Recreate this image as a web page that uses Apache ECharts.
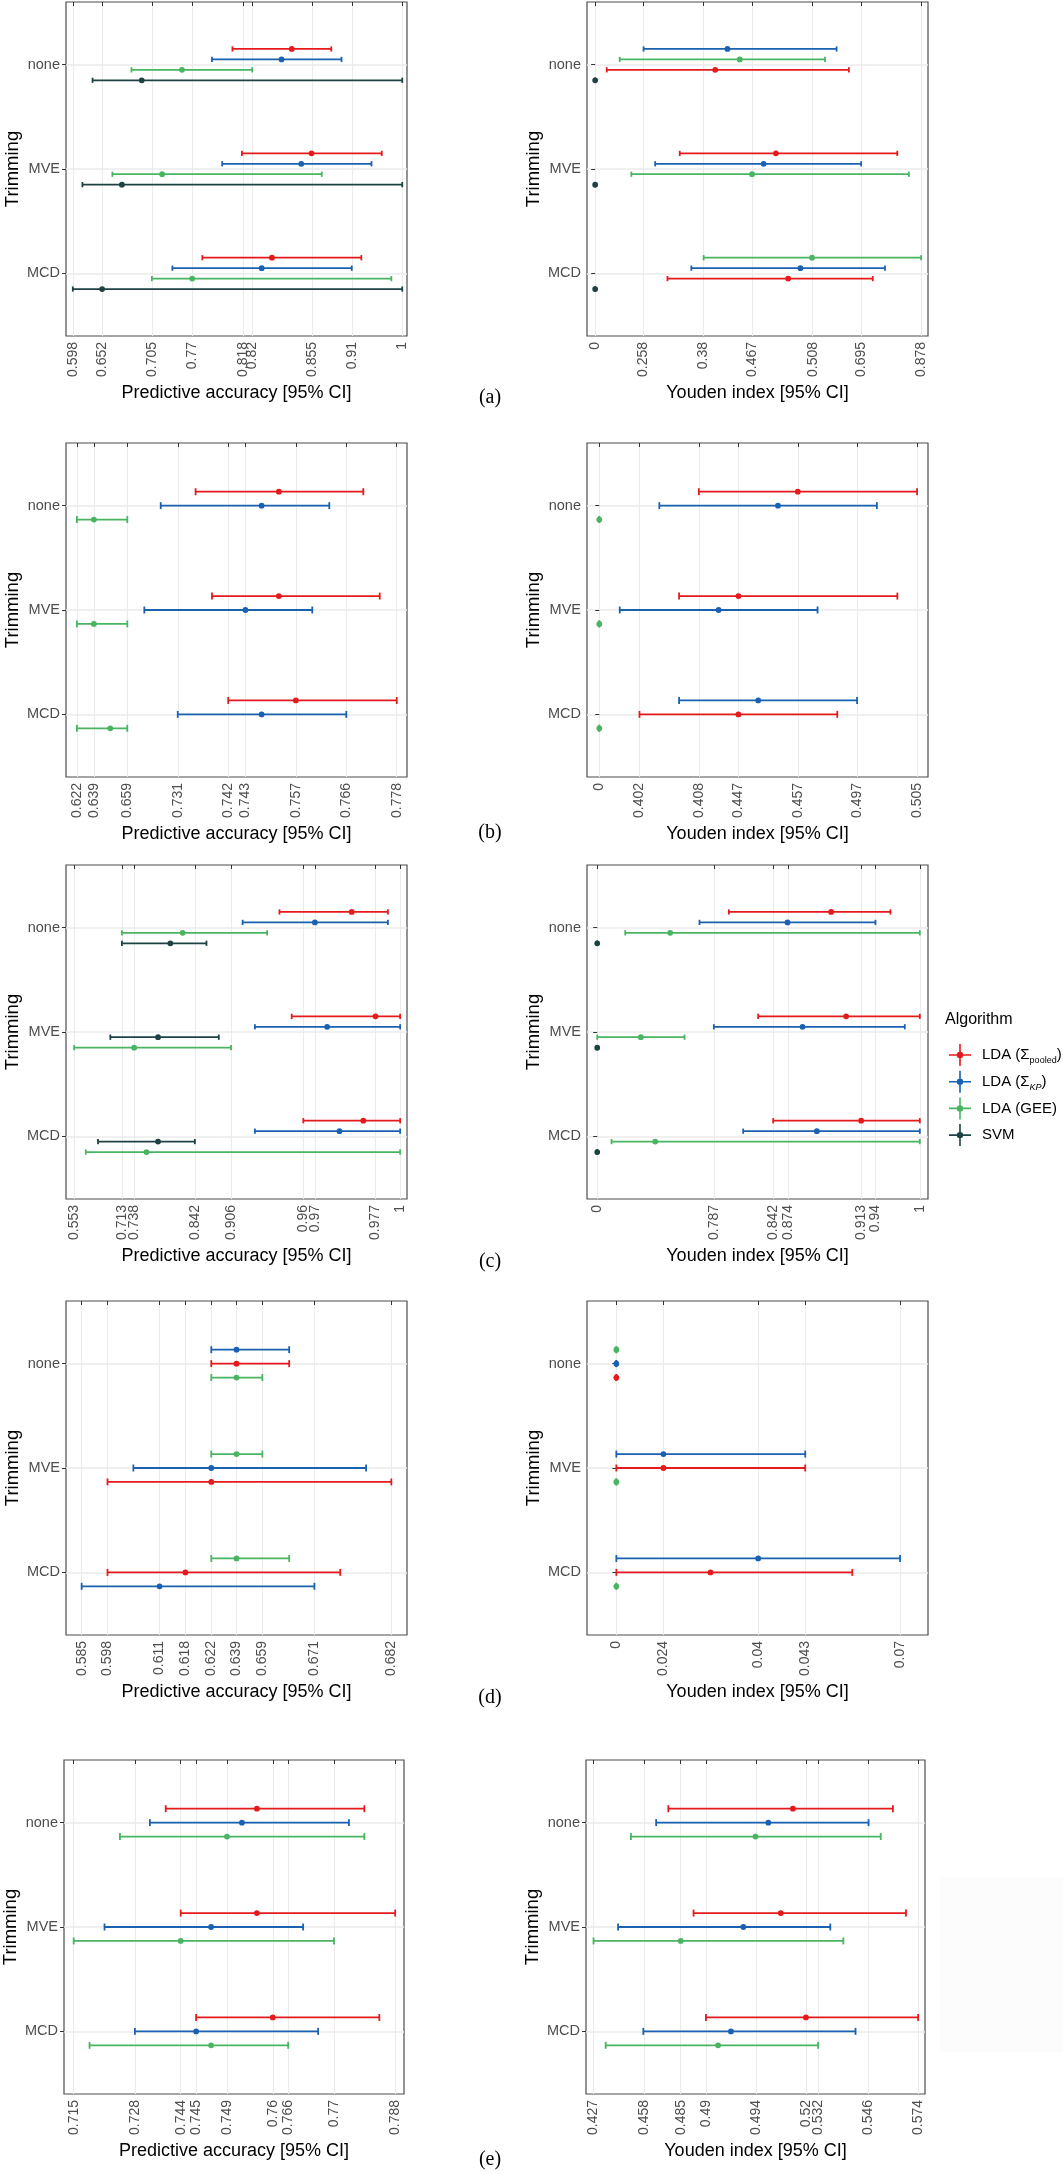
<!DOCTYPE html>
<html>
<head>
<meta charset="utf-8">
<title>Trimming vs algorithm</title>
<script src="https://cdn.jsdelivr.net/npm/echarts@6/dist/echarts.min.js"></script>
<style>
html, body { margin: 0; padding: 0; background: #fff; }
#main { width: 1063px; height: 2174px; }
</style>
</head>
<body>
<div id="main"></div>
<script>
var trimming = ['none', 'MVE', 'MCD'];
var algoKeys = ['pooled', 'kp', 'gee', 'svm'];
var algoNames = ['LDA (Σpooled)', 'LDA (ΣKP)', 'LDA (GEE)', 'SVM'];
var algoColors = ['#E41A1C', '#1A61B1', '#49B461', '#1E4243'];

// each row: [lower, estimate, upper] for none, MVE, MCD
// (a) predictive accuracy
var accA_pooled = [[0.7928, 0.8652, 0.9134], [0.8044, 0.8893, 0.9750], [0.7561, 0.8410, 0.9501]];
var accA_kp     = [[0.7678, 0.8527, 0.9259], [0.7803, 0.8768, 0.9625], [0.7195, 0.8285, 0.9384]];
var accA_gee    = [[0.6696, 0.7312, 0.8169], [0.6463, 0.7070, 0.9018], [0.6945, 0.7437, 0.9867]];
var accA_svm    = [[0.6221, 0.6821, 1.0], [0.6097, 0.6579, 1.0], [0.598, 0.6338, 1.0]];
var accA_ticks  = [0.598, 0.6338, 0.6954, 0.7437, 0.8061, 0.8169, 0.8901, 0.9384, 1];
var accA_labels = ['0.598', '0.652', '0.705', '0.77', '0.818', '0.82', '0.855', '0.91', '1'];
var accA_range  = [0.5897, 1.0058];
var accA_order  = [['pooled', 'kp', 'gee', 'svm'], ['pooled', 'kp', 'gee', 'svm'], ['pooled', 'kp', 'gee', 'svm']];

// (a) Youden index
var youA_pooled = [[0.0312, 0.3233, 0.6833], [0.2278, 0.4868, 0.8137], [0.1947, 0.5198, 0.7476]];
var youA_kp     = [[0.1304, 0.3563, 0.6502], [0.1616, 0.4537, 0.7164], [0.2590, 0.5529, 0.7806]];
var youA_gee    = [[0.0661, 0.3894, 0.6190], [0.0974, 0.4225, 0.8449], [0.2921, 0.5841, 0.878]];
var youA_svm    = [[0, 0, 0], [0, 0, 0], [0, 0, 0]];
var youA_ticks  = [0, 0.1304, 0.2921, 0.4225, 0.5859, 0.7164, 0.878];
var youA_labels = ['0', '0.258', '0.38', '0.467', '0.508', '0.695', '0.878'];
var youA_range  = [-0.022, 0.8964];
var youA_order  = [['kp', 'gee', 'pooled', 'svm'], ['pooled', 'kp', 'gee', 'svm'], ['gee', 'kp', 'pooled', 'svm']];

// (b) predictive accuracy
var accB_pooled = [[0.6799, 0.7205, 0.7617], [0.6879, 0.7205, 0.7697], [0.6958, 0.7288, 0.778]];
var accB_kp     = [[0.6629, 0.7121, 0.7451], [0.6549, 0.7042, 0.7368], [0.6712, 0.7121, 0.7534]];
var accB_gee    = [[0.622, 0.6303, 0.6466], [0.622, 0.6303, 0.6466], [0.622, 0.6383, 0.6466]];
var accB_ticks  = [0.622, 0.6303, 0.6466, 0.6712, 0.6958, 0.7042, 0.7288, 0.7534, 0.778];
var accB_labels = ['0.622', '0.639', '0.659', '0.731', '0.742', '0.743', '0.757', '0.766', '0.778'];
var accB_range  = [0.6167, 0.7830];
var accB_order  = [['pooled', 'kp', 'gee'], ['pooled', 'kp', 'gee'], ['pooled', 'kp', 'gee']];

// (b) Youden index
var youB_pooled = [[0.1582, 0.3154, 0.505], [0.1268, 0.2211, 0.4736], [0.0639, 0.2211, 0.3782]];
var youB_kp     = [[0.0954, 0.2839, 0.4411], [0.0325, 0.1896, 0.3468], [0.1268, 0.2525, 0.4096]];
var youB_gee    = [[0, 0, 0], [0, 0, 0], [0, 0, 0]];
var youB_ticks  = [0, 0.0639, 0.1582, 0.2211, 0.3154, 0.4096, 0.505];
var youB_labels = ['0', '0.402', '0.408', '0.447', '0.457', '0.497', '0.505'];
var youB_range  = [-0.0195, 0.5223];
var youB_order  = [['pooled', 'kp', 'gee'], ['pooled', 'kp', 'gee'], ['kp', 'pooled', 'gee']];

// (c) predictive accuracy
var accC_pooled = [[0.8345, 0.9336, 0.9832], [0.8513, 0.9663, 1], [0.8672, 0.9495, 1]];
var accC_kp     = [[0.7840, 0.8831, 0.9832], [0.8008, 0.8999, 1], [0.8008, 0.9168, 1]];
var accC_gee    = [[0.6185, 0.7017, 0.8176], [0.553, 0.6353, 0.7681], [0.5689, 0.6521, 1]];
var accC_svm    = [[0.6185, 0.6849, 0.7344], [0.6026, 0.6680, 0.7513], [0.5857, 0.6680, 0.7185]];
var accC_ticks  = [0.553, 0.6185, 0.6353, 0.7185, 0.7681, 0.8672, 0.8840, 0.9663, 1];
var accC_labels = ['0.553', '0.713', '0.738', '0.842', '0.906', '0.96', '0.97', '0.977', '1'];
var accC_range  = [0.5418, 1.0094];
var accC_order  = [['pooled', 'kp', 'gee', 'svm'], ['pooled', 'kp', 'svm', 'gee'], ['pooled', 'kp', 'svm', 'gee']];

// (c) Youden index
var youC_pooled = [[0.4080, 0.7252, 0.9091], [0.4989, 0.7717, 1], [0.5455, 0.8182, 1]];
var youC_kp     = [[0.3171, 0.5899, 0.8626], [0.3615, 0.6364, 0.9535], [0.4524, 0.6808, 1]];
var youC_gee    = [[0.0867, 0.2262, 1], [0, 0.1353, 0.2706], [0.0444, 0.1797, 1]];
var youC_svm    = [[0, 0, 0], [0, 0, 0], [0, 0, 0]];
var youC_ticks  = [0, 0.3615, 0.5455, 0.5920, 0.8182, 0.8626, 1];
var youC_labels = ['0', '0.787', '0.842', '0.874', '0.913', '0.94', '1'];
var youC_range  = [-0.0317, 1.0254];
var youC_order  = [['pooled', 'kp', 'gee', 'svm'], ['pooled', 'kp', 'gee', 'svm'], ['pooled', 'kp', 'gee', 'svm']];

// (d) predictive accuracy
var accD_pooled = [[0.6256, 0.6335, 0.6500], [0.5931, 0.6256, 0.682], [0.5931, 0.6175, 0.6660]];
var accD_kp     = [[0.6256, 0.6335, 0.6500], [0.6012, 0.6256, 0.6741], [0.585, 0.6094, 0.6579]];
var accD_gee    = [[0.6256, 0.6335, 0.6416], [0.6256, 0.6335, 0.6416], [0.6256, 0.6335, 0.6500]];
var accD_ticks  = [0.585, 0.5931, 0.6094, 0.6175, 0.6256, 0.6335, 0.6416, 0.6579, 0.682];
var accD_labels = ['0.585', '0.598', '0.611', '0.618', '0.622', '0.639', '0.659', '0.671', '0.682'];
var accD_range  = [0.5801, 0.6869];
var accD_order  = [['kp', 'pooled', 'gee'], ['gee', 'kp', 'pooled'], ['gee', 'pooled', 'kp']];

// (d) Youden index
var youD_pooled = [[0, 0, 0], [0, 0.01161, 0.04661], [0, 0.02322, 0.05822]];
var youD_kp     = [[0, 0, 0], [0, 0.01161, 0.04661], [0, 0.035, 0.07]];
var youD_gee    = [[0, 0, 0], [0, 0, 0], [0, 0, 0]];
var youD_ticks  = [0, 0.01161, 0.035, 0.04661, 0.07];
var youD_labels = ['0', '0.024', '0.04', '0.043', '0.07'];
var youD_range  = [-0.00724, 0.0769];
var youD_order  = [['gee', 'kp', 'pooled'], ['kp', 'pooled', 'gee'], ['kp', 'pooled', 'gee']];

// (e) predictive accuracy
var accE_pooled = [[0.7359, 0.7566, 0.7810], [0.7393, 0.7566, 0.788], [0.7428, 0.7602, 0.7844]];
var accE_kp     = [[0.7323, 0.7532, 0.7775], [0.7220, 0.7462, 0.7671], [0.7289, 0.7428, 0.7705]];
var accE_gee    = [[0.7255, 0.7498, 0.7810], [0.715, 0.7393, 0.7741], [0.7186, 0.7462, 0.7637]];
var accE_ticks  = [0.715, 0.7289, 0.7393, 0.7428, 0.7498, 0.7602, 0.7637, 0.7741, 0.788];
var accE_labels = ['0.715', '0.728', '0.744', '0.745', '0.749', '0.76', '0.766', '0.77', '0.788'];
var accE_range  = [0.7128, 0.7900];
var accE_order  = [['pooled', 'kp', 'gee'], ['pooled', 'kp', 'gee'], ['pooled', 'kp', 'gee']];

// (e) Youden index
var youE_pooled = [[0.4611, 0.5174, 0.5626], [0.4725, 0.5119, 0.5685], [0.4781, 0.5233, 0.574]];
var youE_kp     = [[0.4556, 0.5063, 0.5516], [0.4384, 0.4950, 0.5343], [0.4498, 0.4894, 0.5457]];
var youE_gee    = [[0.4442, 0.5005, 0.5571], [0.4273, 0.4667, 0.5402], [0.4328, 0.4836, 0.5288]];
var youE_ticks  = [0.427, 0.4501, 0.4667, 0.4781, 0.5008, 0.5233, 0.5288, 0.5516, 0.574];
var youE_labels = ['0.427', '0.458', '0.485', '0.49', '0.494', '0.52', '0.532', '0.546', '0.574'];
var youE_range  = [0.4239, 0.5771];
var youE_order  = [['pooled', 'kp', 'gee'], ['pooled', 'kp', 'gee'], ['pooled', 'kp', 'gee']];

var panelTags = ['(a)', '(b)', '(c)', '(d)', '(e)'];

// layout (px)
var rowTop = [2, 443, 865, 1301, 1760];
var tagY = [398, 833, 1262, 1698, 2160];
var colLeft = [[66, 587], [66, 587], [66, 587], [66, 587], [64, 586]];
var colWidth = [[341, 341], [341, 341], [341, 341], [341, 341], [340, 339]];
var panelH = 334;

var SANS = '"Liberation Sans", Arial, sans-serif';
var SERIF = '"Liberation Serif", "Times New Roman", serif';

var panels = [
  {data: {pooled: accA_pooled, kp: accA_kp, gee: accA_gee, svm: accA_svm}, ticks: accA_ticks, labels: accA_labels, range: accA_range, order: accA_order, title: 'Predictive accuracy [95% CI]'},
  {data: {pooled: youA_pooled, kp: youA_kp, gee: youA_gee, svm: youA_svm}, ticks: youA_ticks, labels: youA_labels, range: youA_range, order: youA_order, title: 'Youden index [95% CI]'},
  {data: {pooled: accB_pooled, kp: accB_kp, gee: accB_gee}, ticks: accB_ticks, labels: accB_labels, range: accB_range, order: accB_order, title: 'Predictive accuracy [95% CI]'},
  {data: {pooled: youB_pooled, kp: youB_kp, gee: youB_gee}, ticks: youB_ticks, labels: youB_labels, range: youB_range, order: youB_order, title: 'Youden index [95% CI]'},
  {data: {pooled: accC_pooled, kp: accC_kp, gee: accC_gee, svm: accC_svm}, ticks: accC_ticks, labels: accC_labels, range: accC_range, order: accC_order, title: 'Predictive accuracy [95% CI]'},
  {data: {pooled: youC_pooled, kp: youC_kp, gee: youC_gee, svm: youC_svm}, ticks: youC_ticks, labels: youC_labels, range: youC_range, order: youC_order, title: 'Youden index [95% CI]'},
  {data: {pooled: accD_pooled, kp: accD_kp, gee: accD_gee}, ticks: accD_ticks, labels: accD_labels, range: accD_range, order: accD_order, title: 'Predictive accuracy [95% CI]'},
  {data: {pooled: youD_pooled, kp: youD_kp, gee: youD_gee}, ticks: youD_ticks, labels: youD_labels, range: youD_range, order: youD_order, title: 'Youden index [95% CI]'},
  {data: {pooled: accE_pooled, kp: accE_kp, gee: accE_gee}, ticks: accE_ticks, labels: accE_labels, range: accE_range, order: accE_order, title: 'Predictive accuracy [95% CI]'},
  {data: {pooled: youE_pooled, kp: youE_kp, gee: youE_gee}, ticks: youE_ticks, labels: youE_labels, range: youE_range, order: youE_order, title: 'Youden index [95% CI]'}
];

var catPos = [0.6, 1.6, 2.6];

function renderBar(params, api) {
  var y = api.value(0);
  var lo = api.coord([api.value(1), y]);
  var mid = api.coord([api.value(2), y]);
  var hi = api.coord([api.value(3), y]);
  var capH = api.size([0, 0.2 / api.value(4)])[1] / 2;
  var color = api.visual('color');
  var ls = {stroke: color, lineWidth: 1.8};
  return {
    type: 'group',
    children: [
      {type: 'line', shape: {x1: lo[0], y1: lo[1], x2: hi[0], y2: hi[1]}, style: ls},
      {type: 'line', shape: {x1: lo[0], y1: lo[1] - capH, x2: lo[0], y2: lo[1] + capH}, style: ls},
      {type: 'line', shape: {x1: hi[0], y1: hi[1] - capH, x2: hi[0], y2: hi[1] + capH}, style: ls},
      {type: 'circle', shape: {cx: mid[0], cy: mid[1], r: 2.9}, style: {fill: color}}
    ]
  };
}

function tickLabeler(p) {
  return function (v) {
    var best = 0;
    for (var j = 1; j < p.ticks.length; j++) {
      if (Math.abs(p.ticks[j] - v) < Math.abs(p.ticks[best] - v)) best = j;
    }
    return p.labels[best];
  };
}

var grids = [], xAxes = [], yAxes = [], series = [], graphics = [];

panels.forEach(function (p, i) {
  var row = Math.floor(i / 2), col = i % 2;
  grids.push({
    left: colLeft[row][col], top: rowTop[row], width: colWidth[row][col], height: panelH,
    show: true, borderColor: '#4d4d4d', borderWidth: 1.2, backgroundColor: '#fff',
    containLabel: false, outerBoundsMode: 'none'
  });
  xAxes.push({
    gridIndex: i, type: 'value', min: p.range[0], max: p.range[1],
    name: p.title, nameLocation: 'middle', nameGap: 48, nameMoveOverlap: false,
    nameTextStyle: {fontFamily: SANS, fontSize: 18, color: '#000'},
    axisLine: {show: false},
    axisTick: {show: true, customValues: p.ticks, length: 4, lineStyle: {color: '#333', width: 1}},
    axisLabel: {
      customValues: p.ticks, rotate: 90, margin: 6, showMinLabel: true, showMaxLabel: true,
      formatter: tickLabeler(p), color: '#4d4d4d', fontSize: 14, fontFamily: SANS
    },
    splitLine: {show: true, lineStyle: {color: '#ebebeb', width: 1}}
  });
  yAxes.push({
    gridIndex: i, type: 'value', min: 0, max: 3.2, inverse: true,
    name: 'Trimming', nameLocation: 'middle', nameGap: 44, nameMoveOverlap: false,
    nameTextStyle: {fontFamily: SANS, fontSize: 18.5, color: '#000'},
    axisLine: {show: false},
    axisTick: {show: true, customValues: catPos, length: 4, lineStyle: {color: '#333', width: 1}},
    axisLabel: {
      customValues: catPos, margin: 6, color: '#4d4d4d', fontSize: 14.5, fontFamily: SANS,
      formatter: function (v) { return trimming[Math.round(v - 0.6)]; }
    },
    splitLine: {show: true, lineStyle: {color: '#ebebeb', width: 1.5}}
  });

  algoKeys.forEach(function (key, k) {
    var vals = p.data[key];
    if (!vals) return;
    var rows = trimming.map(function (t, c) {
      var ord = p.order[c];
      var n = ord.length;
      var slot = ord.indexOf(key);
      var y = catPos[c] + (slot - (n - 1) / 2) * 0.4 / n;
      return [y, vals[c][0], vals[c][1], vals[c][2], n];
    });
    series.push({
      type: 'custom', name: algoNames[k],
      xAxisIndex: i, yAxisIndex: i,
      data: rows, renderItem: renderBar,
      encode: {x: [1, 2, 3], y: 0},
      itemStyle: {color: algoColors[k]},
      silent: true
    });
  });

  if (col === 0) {
    graphics.push({
      type: 'text', x: 490, y: tagY[row],
      style: {text: panelTags[row], font: '20px ' + SERIF, fill: '#000', textAlign: 'center', textVerticalAlign: 'middle', align: 'center', verticalAlign: 'middle'}
    });
  }
});

graphics.push({
  type: 'text', x: 945, y: 1020,
  style: {text: 'Algorithm', font: '16px ' + SANS, fill: '#000', textAlign: 'left', textVerticalAlign: 'middle', align: 'left', verticalAlign: 'middle'}
});
// faint box to the right of panel (e)
graphics.push({
  type: 'rect', shape: {x: 940, y: 1877, width: 123, height: 175}, style: {fill: '#fcfcfc'}, z: -1
});

var legendIcon = 'path://M0,10.2h22v1.6h-22z M10.2,0h1.6v22h-1.6z M14.2,11a3.2,3.2 0 1 1 -6.4,0a3.2,3.2 0 1 1 6.4,0z';

var myChart = echarts.init(document.getElementById('main'), null, {renderer: 'canvas'});

var option = {
  animation: false,
  backgroundColor: '#fff',
  grid: grids,
  xAxis: xAxes,
  yAxis: yAxes,
  series: series,
  graphic: graphics,
  legend: {
    data: algoNames, orient: 'vertical', left: 944, top: 1039,
    itemWidth: 22, itemHeight: 22, itemGap: 4.7, icon: legendIcon,
    selectedMode: false,
    formatter: function (name) {
      if (name === algoNames[0]) return '{n|LDA (Σ}{s|pooled}{n|)}';
      if (name === algoNames[1]) return '{n|LDA (Σ}{i|KP}{n|)}';
      return '{n|' + name + '}';
    },
    textStyle: {
      fontFamily: SANS, fontSize: 15, color: '#000', padding: [0, 0, 0, 6],
      rich: {
        n: {fontFamily: SANS, fontSize: 15, color: '#000', lineHeight: 20},
        s: {fontFamily: SANS, fontSize: 9, color: '#000', verticalAlign: 'bottom', lineHeight: 11},
        i: {fontFamily: SANS, fontSize: 9, fontStyle: 'italic', color: '#000', verticalAlign: 'bottom', lineHeight: 11}
      }
    }
  }
};

myChart.setOption(option);
</script>
</body>
</html>
